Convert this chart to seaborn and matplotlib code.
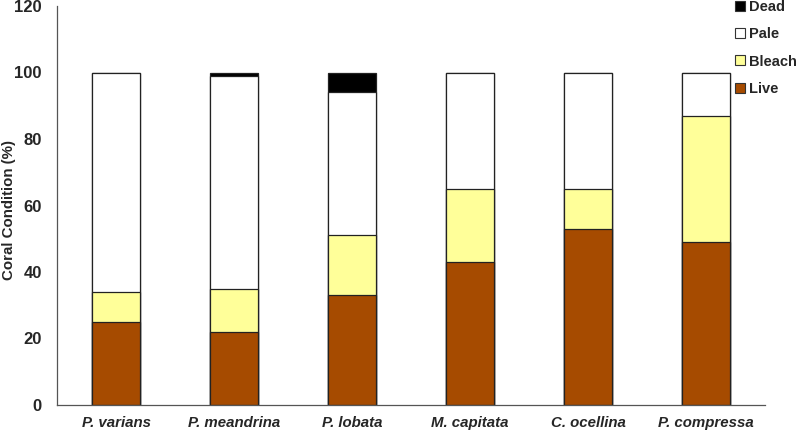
import numpy as np
import pandas as pd
import matplotlib
matplotlib.use("Agg")
import matplotlib.pyplot as plt
import seaborn as sns
from matplotlib.lines import Line2D

species = ["P. varians", "P. meandrina", "P. lobata", "M. capitata", "C. ocellina", "P. compressa"]
live = [25, 22, 33, 43, 53, 49]
bleach = [9, 13, 18, 22, 12, 38]
pale = [66, 64, 43, 35, 35, 13]
dead = [0, 1, 6, 0, 0, 0]
yticks = [0, 20, 40, 60, 80, 100, 120]

layers = ["Live", "Bleach", "Pale", "Dead"]
colors = {"Live": "#A64B00", "Bleach": "#FFFF99", "Pale": "#FFFFFF", "Dead": "#000000"}

df = pd.DataFrame({"species": species, "Live": live, "Bleach": bleach, "Pale": pale, "Dead": dead})
cum = df[layers].cumsum(axis=1)

sns.set_style("white")
plt.rcParams["font.family"] = ["Liberation Sans", "DejaVu Sans"]

fig = plt.figure(figsize=(7.97, 4.32), dpi=100)
ax = fig.add_axes([57 / 797, 1 - 405 / 432, (765 - 57) / 797, (405 - 6) / 432])

for layer in reversed(layers):
    sns.barplot(x=df["species"], y=cum[layer], color=colors[layer], ax=ax,
                width=0.4, edgecolor="#222222", linewidth=0.9, saturation=1)

ax.set_xlim(-0.5, 5.5)
ax.set_ylim(0, 120)
ax.set_yticks(yticks)
ax.set_yticklabels([str(v) for v in yticks], fontsize=12, fontweight="bold")
ax.set_xticks(range(len(species)))
ax.set_xticklabels(species, fontsize=10.8, fontweight="bold", fontstyle="italic")
ax.set_xticks(np.arange(-0.5, 6.0, 1.0), minor=True)
ax.tick_params(axis="x", which="major", length=0, pad=8)
ax.tick_params(axis="x", which="minor", length=5, width=0.8, direction="out", color="#555555")
ax.tick_params(axis="y", which="major", length=5, width=0.8, direction="out", color="#555555", pad=6)
ax.set_xlabel("")
ax.set_ylabel("")
fig.text(9 / 797, 1 - 210 / 432, "Coral Condition (%)", rotation=90, ha="center", va="center",
         fontsize=10.8, fontweight="bold")

for s in ["top", "right"]:
    ax.spines[s].set_visible(False)
for s in ["left", "bottom"]:
    ax.spines[s].set_color("#555555")
    ax.spines[s].set_linewidth(0.9)

handles = [Line2D([0], [0], marker="s", linestyle="none", markersize=7,
                  markerfacecolor=colors[l], markeredgecolor="#333333", markeredgewidth=0.8)
           for l in ["Dead", "Pale", "Bleach", "Live"]]
leg = fig.legend(handles, ["Dead", "Pale", "Bleach", "Live"], loc="upper left",
                 bbox_to_anchor=(724 / 797, 1.0 + 9 / 432), frameon=False,
                 prop={"weight": "bold", "size": 10.5}, handletextpad=0.1,
                 handlelength=1.0, labelspacing=0.92, borderaxespad=0.2)

fig.savefig("out.png", dpi=100)
